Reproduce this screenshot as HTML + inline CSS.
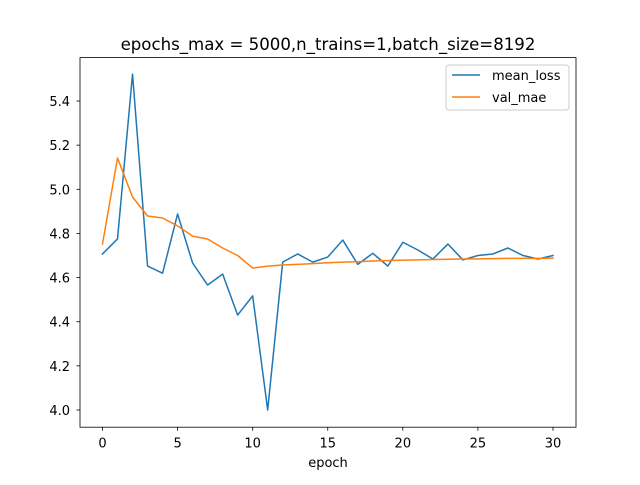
<!DOCTYPE html>
<html><head><meta charset="utf-8"><style>
html,body{margin:0;padding:0;background:#fff;}
svg text{font-family:"DejaVu Sans","Liberation Sans",sans-serif;fill:#000;}
</style></head><body>
<svg id="chart" width="640" height="480" viewBox="0 0 640 480" xmlns="http://www.w3.org/2000/svg">
<rect width="640" height="480" fill="#fff"/>
<text x="328" y="50" font-size="16.6" text-anchor="middle">epochs_max = 5000,n_trains=1,batch_size=8192</text>
<g id="ticks"></g>
<g id="series"></g>
<rect x="80" y="57.6" width="496" height="369.6" fill="none" stroke="#000" stroke-width="0.8"/>
<text x="328" y="467" font-size="13" text-anchor="middle">epoch</text>
<g>
<rect x="446" y="65" width="123" height="45" rx="3" fill="#fff" fill-opacity="0.8" stroke="#ccc" stroke-width="1"/>
<line x1="452" y1="75" x2="480" y2="75" stroke="#1f77b4" stroke-width="1.5"/>
<text x="492" y="80" font-size="13">mean_loss</text>
<line x1="452" y1="97" x2="480" y2="97" stroke="#ff7f0e" stroke-width="1.5"/>
<text x="492" y="102" font-size="13">val_mae</text>
</g>
</svg>
<script>
const epochs = [0,1,2,3,4,5,6,7,8,9,10,11,12,13,14,15,16,17,18,19,20,21,22,23,24,25,26,27,28,29,30];
const meanLoss = [4.707,4.775,5.522,4.652,4.62,4.888,4.666,4.566,4.616,4.43,4.517,4.0,4.67,4.707,4.67,4.693,4.77,4.66,4.71,4.652,4.76,4.725,4.684,4.752,4.68,4.70,4.707,4.734,4.70,4.684,4.70];
const valMae = [4.752,5.142,4.965,4.879,4.87,4.834,4.788,4.775,4.734,4.70,4.643,4.652,4.657,4.66,4.663,4.667,4.67,4.672,4.675,4.677,4.679,4.68,4.682,4.683,4.684,4.685,4.686,4.687,4.687,4.687,4.688];
const xTicks = [0,5,10,15,20,25,30];
const yTicks = [4.0,4.2,4.4,4.6,4.8,5.0,5.2,5.4];
const NS = "http://www.w3.org/2000/svg";
function xs(v){return 102.5 + v*(553-102.5)/30;}
function ys(v){return 410 - (v-4.0)*220.7;}
const tg = document.getElementById('ticks');
xTicks.forEach(t=>{
  const l=document.createElementNS(NS,'line');
  l.setAttribute('x1',xs(t));l.setAttribute('x2',xs(t));l.setAttribute('y1',427.2);l.setAttribute('y2',430.7);
  l.setAttribute('stroke','#000');l.setAttribute('stroke-width','0.8');
  
  
  tg.appendChild(l);
  const tx=document.createElementNS(NS,'text');
  tx.setAttribute('x',xs(t));tx.setAttribute('y',447.5);tx.setAttribute('font-size','13');tx.setAttribute('text-anchor','middle');
  tx.textContent=t;
  
  
  tg.appendChild(tx);
});
yTicks.forEach(t=>{
  const l=document.createElementNS(NS,'line');
  l.setAttribute('x1',76.5);l.setAttribute('x2',80);l.setAttribute('y1',ys(t));l.setAttribute('y2',ys(t));
  l.setAttribute('stroke','#000');l.setAttribute('stroke-width','0.8');
  
  
  tg.appendChild(l);
  const tx=document.createElementNS(NS,'text');
  tx.setAttribute('x',70);tx.setAttribute('y',ys(t)+5);tx.setAttribute('font-size','13');tx.setAttribute('text-anchor','end');
  tx.textContent=t.toFixed(1);
  
  
  tg.appendChild(tx);
});
const sg=document.getElementById('series');
function line(vals,color,name){
  const p=document.createElementNS(NS,'polyline');
  p.setAttribute('points',vals.map((v,i)=>xs(epochs[i])+','+ys(v)).join(' '));
  p.setAttribute('fill','none');p.setAttribute('stroke',color);p.setAttribute('stroke-width','1.5');
  p.setAttribute('stroke-linejoin','round');p.setAttribute('stroke-linecap','square');
  
  
  sg.appendChild(p);
}
line(meanLoss,'#1f77b4','mean-loss-line');
line(valMae,'#ff7f0e','val-mae-line');
</script>
</body></html>
